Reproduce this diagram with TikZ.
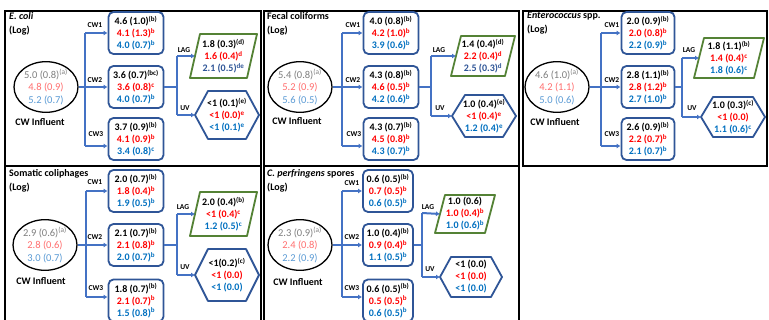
\documentclass[tikz,border=0pt]{standalone}
\usepackage{fontspec}
\setmainfont{Carlito}
\usetikzlibrary{arrows.meta,shapes.geometric}
\definecolor{connc}{HTML}{4472C4}
\definecolor{boxc}{HTML}{2F5597}
\definecolor{lagc}{HTML}{548235}
\definecolor{eg}{HTML}{7F7F7F}
\definecolor{er}{HTML}{FF6F6F}
\definecolor{eb}{HTML}{5B9BD5}
\definecolor{rd}{HTML}{FF0000}
\definecolor{bl}{HTML}{0070C0}
\definecolor{bld}{HTML}{2F5597}
\newcommand\sps[1]{\textsuperscript{#1}}
\newcommand\tri[3]{#1\\\textcolor{rd}{#2}\\\textcolor{bl}{#3}}
\newcommand\etri[3]{\textcolor{eg}{#1}\\\textcolor{er}{#2}\\\textcolor{eb}{#3}}
% parallelogram round a text node: name, w, h, slant
\newcommand\para[4]{%
  \draw[lagline] ([xshift={-(#2)/2-(#4)/2}, yshift={-(#3)/2}]#1.center) -- ([xshift={(#2)/2-(#4)/2}, yshift={-(#3)/2}]#1.center) -- ([xshift={(#2)/2+(#4)/2}, yshift={(#3)/2}]#1.center) -- ([xshift={-(#2)/2+(#4)/2}, yshift={(#3)/2}]#1.center) -- cycle;
  \coordinate (#1w) at ([xshift={-(#2)/2}]#1.center);}
% hexagon round a text node: name, w, h, inset
\newcommand\hexa[4]{%
  \draw[uvline] ([xshift={-(#2)/2}]#1.center) -- ([xshift={-(#2)/2+(#4)}, yshift={(#3)/2}]#1.center) -- ([xshift={(#2)/2-(#4)}, yshift={(#3)/2}]#1.center) -- ([xshift={(#2)/2}]#1.center) -- ([xshift={(#2)/2-(#4)}, yshift={-(#3)/2}]#1.center) -- ([xshift={-(#2)/2+(#4)}, yshift={-(#3)/2}]#1.center) -- cycle;
  \coordinate (#1w) at ([xshift={-(#2)/2}]#1.center);}
\begin{document}
\begin{tikzpicture}[x=1pt,y=-1pt,
  panel/.style={draw=black,line width=2pt},
  ttl/.style={anchor=north west,align=left,inner sep=0pt,font=\bfseries\fontsize{10}{14}\selectfont},
  ell/.style={ellipse,draw=black,line width=1.3pt,minimum width=64pt,minimum height=48pt,inner sep=0pt,align=center,font=\fontsize{10.5}{12.5}\selectfont},
  infl/.style={font=\bfseries\fontsize{10}{12}\selectfont,inner sep=0pt},
  cwb/.style={draw=boxc,fill=white,line width=1.8pt,rounded corners=5pt,minimum width=55pt,minimum height=42pt,inner sep=2pt,align=center,font=\bfseries\fontsize{10}{12}\selectfont},
  vals/.style={inner sep=0pt,align=center,font=\bfseries\fontsize{10}{12}\selectfont},
  lbl/.style={font=\bfseries\fontsize{7.5}{8}\selectfont,inner sep=0pt},
  conn/.style={draw=connc,line width=2pt},
  arr/.style={draw=connc,line width=2pt,-{Latex[length=4pt,width=5pt]}},
  lagline/.style={draw=lagc,line width=1.8pt,line join=round},
  uvline/.style={draw=boxc,line width=1.8pt,line join=round},
]
\useasboundingbox (0,0) rectangle (769,320);
\clip (0,0) rectangle (769,320);
\fill[white] (0,0) rectangle (769,320);

% ================= Panel 1 =================
\draw[panel] (5,11) rectangle (260.5,166);
\node[ttl] (p1t) at (9,12) {\textit{E. coli}\\(Log)};
\node[ell] (p1e) at (46,87) {\etri{5.0 (0.8)\sps{(a)}}{4.8 (0.9)}{5.2 (0.7)}};
\node[infl] (p1i) at (40,122) {CW Influent};
\node[cwb] (p1c1) at (136,33) {\tri{4.6 (1.0)\sps{(b)}}{4.1 (1.3)\sps{b}}{4.0 (0.7)\sps{b}}};
\node[cwb] (p1c2) at (136,87) {\tri{3.6 (0.7)\sps{(bc)}}{3.6 (0.8)\sps{c}}{4.0 (0.7)\sps{b}}};
\node[cwb] (p1c3) at (136,139) {\tri{3.7 (0.9)\sps{(b)}}{4.1 (0.9)\sps{b}}{3.4 (0.8)\sps{c}}};
\coordinate (p1a) at (85,33); \coordinate (p1b) at (85,87); \coordinate (p1c) at (85,146);
\draw[conn] (p1e) -- (p1b);
\draw[conn] (p1a) -- (p1c);
\draw[arr] (p1a) -- (p1c1);
\draw[arr] (p1b) -- (p1c2);
\draw[arr] (p1c) -- (p1c -| p1c3.west);
\node[lbl] (p1l1) at (95,25) {CW1};
\node[lbl] (p1l2) at (95,80) {CW2};
\node[lbl] (p1l3) at (96,134) {CW3};
\coordinate (p1d) at (177,56); \coordinate (p1f) at (177,87); \coordinate (p1g) at (177,115);
\draw[conn] (p1c2) -- (p1f);
\draw[conn] (p1d) -- (p1g);
\node[vals] (p1lag) at (223.5,56) {\tri{1.8 (0.3)\sps{(d)}}{1.6 (0.4)\sps{d}}{\textcolor{bld}{2.1 (0.5)\sps{de}}}};
\para{p1lag}{57}{44}{10}
\draw[arr] (p1d) -- (p1lagw);
\node[vals] (p1uv) at (227,115) {\tri{<1 (0.1)\sps{(e)}}{<1 (0.0)\sps{e}}{<1 (0.1)\sps{e}}};
\hexa{p1uv}{64}{48}{13}
\draw[arr] (p1g) -- (p1uvw);
\node[lbl] (p1l4) at (184,50) {LAG};
\node[lbl] (p1l5) at (185,108) {UV};

% ================= Panel 2 =================
\draw[panel] (263.5,11) rectangle (518.5,166);
\node[ttl] (p2t) at (267,12) {Fecal coliforms\\(Log)};
\node[ell] (p2e) at (300,87) {\etri{5.4 (0.8)\sps{(a)}}{5.2 (0.9)}{5.6 (0.5)}};
\node[infl] (p2i) at (297,121) {CW Influent};
\node[cwb] (p2c1) at (391,33) {\tri{4.0 (0.8)\sps{(b)}}{4.2 (1.0)\sps{b}}{3.9 (0.6)\sps{b}}};
\node[cwb] (p2c2) at (391,87) {\tri{4.3 (0.8)\sps{(b)}}{4.6 (0.5)\sps{b}}{4.2 (0.6)\sps{b}}};
\node[cwb] (p2c3) at (391,139) {\tri{4.3 (0.7)\sps{(b)}}{4.5 (0.8)\sps{b}}{4.3 (0.7)\sps{b}}};
\coordinate (p2a) at (342,33); \coordinate (p2b) at (342,87); \coordinate (p2c) at (342,146);
\draw[conn] (p2e) -- (p2b);
\draw[conn] (p2a) -- (p2c);
\draw[arr] (p2a) -- (p2c1);
\draw[arr] (p2b) -- (p2c2);
\draw[arr] (p2c) -- (p2c -| p2c3.west);
\node[lbl] (p2l1) at (353,25) {CW1};
\node[lbl] (p2l2) at (353,80) {CW2};
\node[lbl] (p2l3) at (354,134) {CW3};
\coordinate (p2d) at (431,56); \coordinate (p2f) at (431,87); \coordinate (p2g) at (431,116);
\draw[conn] (p2c2) -- (p2f);
\draw[conn] (p2d) -- (p2g);
\node[vals] (p2lag) at (483,56) {\tri{1.4 (0.4)\sps{(d)}}{2.2 (0.4)\sps{d}}{\textcolor{bld}{2.5 (0.3)\sps{d}}}};
\para{p2lag}{54}{40}{10}
\draw[arr] (p2d) -- (p2lagw);
\node[vals] (p2uv) at (484,116) {\tri{1.0 (0.4)\sps{(e)}}{<1 (0.4)\sps{e}}{1.2 (0.4)\sps{e}}};
\hexa{p2uv}{64}{42}{13}
\draw[arr] (p2g) -- (p2uvw);
\node[lbl] (p2l4) at (439,50) {LAG};
\node[lbl] (p2l5) at (440,108) {UV};

% ================= Panel 3 =================
\draw[panel] (523,11) rectangle (767,166);
\node[ttl] (p3t) at (527,12) {\textit{Enterococcus} spp.\\(Log)};
\node[ell] (p3e) at (557,87) {\etri{4.6 (1.0)\sps{(a)}}{4.2 (1.1)}{5.0 (0.6)}};
\node[infl] (p3i) at (555,122) {CW Influent};
\node[cwb,minimum width=53pt] (p3c1) at (648,33) {\tri{2.0 (0.9)\sps{(b)}}{2.0 (0.8)\sps{b}}{2.2 (0.9)\sps{b}}};
\node[cwb,minimum width=53pt] (p3c2) at (648,87) {\tri{2.8 (1.1)\sps{(b)}}{2.8 (1.2)\sps{b}}{2.7 (1.0)\sps{b}}};
\node[cwb,minimum width=53pt] (p3c3) at (648,139) {\tri{2.6 (0.9)\sps{(b)}}{2.2 (0.7)\sps{b}}{2.1 (0.7)\sps{b}}};
\coordinate (p3a) at (601,33); \coordinate (p3b) at (601,87); \coordinate (p3c) at (601,146);
\draw[conn] (p3e) -- (p3b);
\draw[conn] (p3a) -- (p3c);
\draw[arr] (p3a) -- (p3c1);
\draw[arr] (p3b) -- (p3c2);
\draw[arr] (p3c) -- (p3c -| p3c3.west);
\node[lbl] (p3l1) at (612,25) {CW1};
\node[lbl] (p3l2) at (612,80) {CW2};
\node[lbl] (p3l3) at (612,134) {CW3};
\coordinate (p3d) at (682,58); \coordinate (p3f) at (682,87); \coordinate (p3g) at (682,117);
\draw[conn] (p3c2) -- (p3f);
\draw[conn] (p3d) -- (p3g);
\node[vals] (p3lag) at (729,58) {\tri{1.8 (1.1)\sps{(b)}}{1.4 (0.4)\sps{c}}{1.8 (0.6)\sps{c}}};
\para{p3lag}{60}{40}{10}
\draw[arr] (p3d) -- (p3lagw);
\node[vals] (p3uv) at (733,117) {\tri{1.0 (0.3)\sps{(c)}}{<1 (0.0)}{1.1 (0.6)\sps{c}}};
\hexa{p3uv}{64}{40}{12}
\draw[arr] (p3g) -- (p3uvw);
\node[lbl] (p3l4) at (689,50) {LAG};
\node[lbl] (p3l5) at (692,108) {UV};

% ================= Panel 4 =================
\draw[panel] (5,166) rectangle (260.5,330);
\node[ttl] (p4t) at (9,169) {Somatic coliphages\\(Log)};
\node[ell] (p4e) at (45,245) {\etri{2.9 (0.6)\sps{(a)}}{2.8 (0.6)}{3.0 (0.7)}};
\node[infl] (p4i) at (41,281) {CW Influent};
\node[cwb] (p4c1) at (136,191) {\tri{2.0 (0.7)\sps{(b)}}{1.8 (0.4)\sps{b}}{1.9 (0.5)\sps{b}}};
\node[cwb] (p4c2) at (136,245) {\tri{2.1 (0.7)\sps{(b)}}{2.1 (0.8)\sps{b}}{2.0 (0.7)\sps{b}}};
\node[cwb] (p4c3) at (136,300.5) {\tri{1.8 (0.7)\sps{(b)}}{2.1 (0.7)\sps{b}}{1.5 (0.8)\sps{b}}};
\coordinate (p4a) at (86,191); \coordinate (p4b) at (86,245); \coordinate (p4c) at (86,297);
\draw[conn] (p4e) -- (p4b);
\draw[conn] (p4a) -- (p4c);
\draw[arr] (p4a) -- (p4c1);
\draw[arr] (p4b) -- (p4c2);
\draw[arr] (p4c) -- (p4c -| p4c3.west);
\node[lbl] (p4l1) at (95,182) {CW1};
\node[lbl] (p4l2) at (95,237) {CW2};
\node[lbl] (p4l3) at (96,288) {CW3};
\coordinate (p4d) at (177,214); \coordinate (p4f) at (177,245); \coordinate (p4g) at (177,275);
\draw[conn] (p4c2) -- (p4f);
\draw[conn] (p4d) -- (p4g);
\node[vals] (p4lag) at (223.5,214) {\tri{2.0 (0.4)\sps{(b)}}{<1 (0.4)\sps{c}}{1.2 (0.5)\sps{c}}};
\para{p4lag}{57}{44}{10}
\draw[arr] (p4d) -- (p4lagw);
\node[vals] (p4uv) at (227,275) {\tri{<1(0.2)\sps{(c)}}{<1 (0.0)}{<1 (0.0)}};
\hexa{p4uv}{64}{52}{13}
\draw[arr] (p4g) -- (p4uvw);
\node[lbl] (p4l4) at (183,207) {LAG};
\node[lbl] (p4l5) at (185,267) {UV};

% ================= Panel 5 =================
\draw[panel] (263.5,166) rectangle (519,330);
\node[ttl] (p5t) at (267,169) {\textit{C. perfringens} spores\\(Log)};
\node[ell] (p5e) at (300,245) {\etri{2.3 (0.9)\sps{(a)}}{2.4 (0.8)}{2.2 (0.9)}};
\node[infl] (p5i) at (298,282) {CW Influent};
\node[cwb,minimum width=50pt] (p5c1) at (388,191) {\tri{0.6 (0.5)\sps{(b)}}{0.7 (0.5)\sps{b}}{0.6 (0.5)\sps{b}}};
\node[cwb,minimum width=50pt] (p5c2) at (388,245) {\tri{1.0 (0.4)\sps{(b)}}{0.9 (0.4)\sps{b}}{1.1 (0.5)\sps{b}}};
\node[cwb,minimum width=50pt] (p5c3) at (388,300.5) {\tri{0.6 (0.5)\sps{(b)}}{0.5 (0.5)\sps{b}}{0.6 (0.5)\sps{b}}};
\coordinate (p5a) at (342,191); \coordinate (p5b) at (342,245); \coordinate (p5c) at (342,297);
\draw[conn] (p5e) -- (p5b);
\draw[conn] (p5a) -- (p5c);
\draw[arr] (p5a) -- (p5c1);
\draw[arr] (p5b) -- (p5c2);
\draw[arr] (p5c) -- (p5c -| p5c3.west);
\node[lbl] (p5l1) at (352,183) {CW1};
\node[lbl] (p5l2) at (352,237) {CW2};
\node[lbl] (p5l3) at (352,288) {CW3};
\coordinate (p5d) at (422,213); \coordinate (p5f) at (422,245); \coordinate (p5g) at (422,277);
\draw[conn] (p5c2) -- (p5f);
\draw[conn] (p5d) -- (p5g);
\node[vals] (p5lag) at (465,214) {\tri{1.0 (0.6)}{1.0 (0.4)\sps{b}}{1.0 (0.6)\sps{b}}};
\para{p5lag}{50}{38}{10}
\draw[arr] (p5d) -- (p5lagw);
\node[vals] (p5uv) at (471,277) {\tri{<1 (0.0)}{<1 (0.0)}{<1 (0.0)}};
\hexa{p5uv}{62}{40}{11}
\draw[arr] (p5g) -- (p5uvw);
\node[lbl] (p5l4) at (428,207) {LAG};
\node[lbl] (p5l5) at (430,269) {UV};
\end{tikzpicture}
\end{document}
